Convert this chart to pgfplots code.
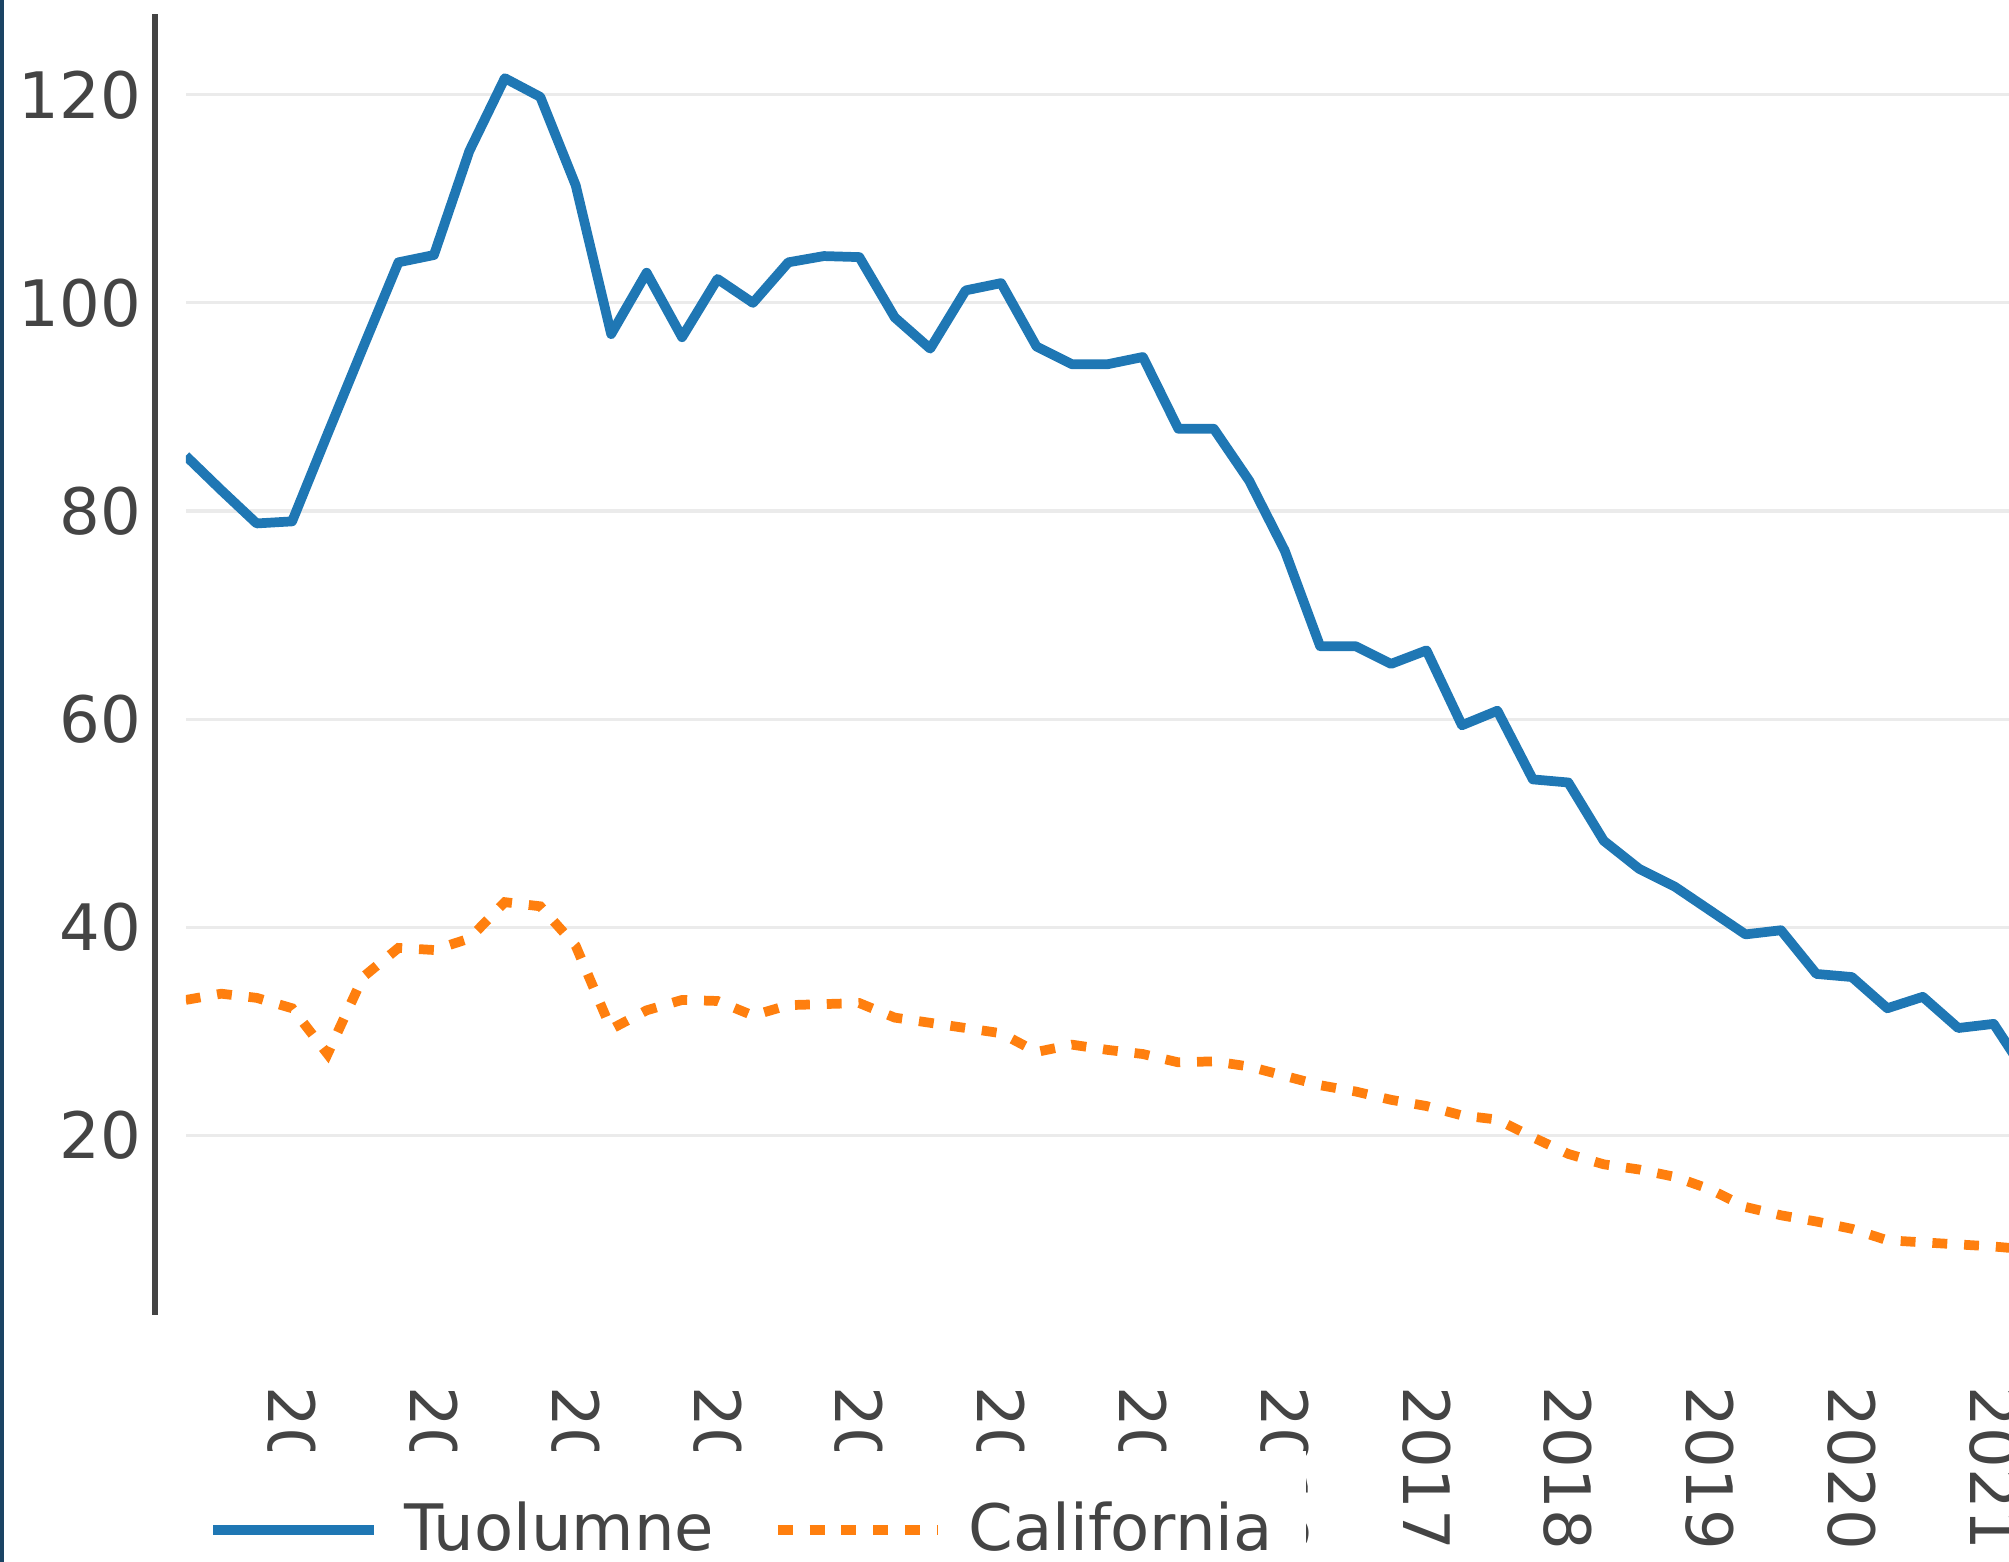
\documentclass[border=0pt]{standalone}
\usepackage{fontspec}
\setmainfont{DejaVu Sans}
\usepackage{pgfplots}
\usepackage{pgfplotstable}
\pgfplotsset{compat=1.18}

\definecolor{tuol}{HTML}{1F77B4}
\definecolor{cali}{HTML}{FF7F0E}
\definecolor{axisgray}{HTML}{444444}
\definecolor{gridgray}{HTML}{EBEBEB}
\definecolor{edgeblue}{RGB}{27,68,100}

% quarterly values, year as decimal
\pgfplotstableread{
year     tuol   cali
2008.25  85.3   33.0
2008.50  82.0   33.6
2008.75  78.8   33.2
2009.00  79.0   32.2
2009.25  87.4   27.8
2009.50  95.7   35.2
2009.75  103.9  38.0
2010.00  104.6  37.8
2010.25  114.6  38.9
2010.50  121.6  42.4
2010.75  119.8  42.0
2011.00  111.3  38.2
2011.25  97.0   30.2
2011.50  102.9  32.0
2011.75  96.7   33.0
2012.00  102.3  32.9
2012.25  100.0  31.5
2012.50  103.9  32.5
2012.75  104.5  32.6
2013.00  104.4  32.7
2013.25  98.6   31.3
2013.50  95.6   30.8
2013.75  101.2  30.3
2014.00  101.9  29.8
2014.25  95.8   28.0
2014.50  94.1   28.7
2014.75  94.1   28.2
2015.00  94.8   27.8
2015.25  87.9   27.0
2015.50  87.9   27.1
2015.75  82.9   26.6
2016.00  76.2   25.7
2016.25  67.0   24.8
2016.50  67.0   24.2
2016.75  65.3   23.4
2017.00  66.6   22.8
2017.25  59.4   21.9
2017.50  60.8   21.5
2017.75  54.2   19.8
2018.00  53.9   18.2
2018.25  48.3   17.2
2018.50  45.6   16.7
2018.75  43.9   16.0
2019.00  41.6   14.8
2019.25  39.3   13.1
2019.50  39.7   12.3
2019.75  35.5   11.7
2020.00  35.2   11.0
2020.25  32.2   9.9
2020.50  33.3   9.7
2020.75  30.3   9.5
2021.00  30.7   9.3
2021.25  25.5   9.0
}\datatable

\begin{document}
\begin{tikzpicture}
\useasboundingbox (-36.25pt,-48.25pt) rectangle (355.75pt,256.5pt);
\clip (-36.25pt,-48.25pt) rectangle (355.75pt,256.5pt);
\begin{axis}[
  at={(0pt,0pt)}, anchor=south west,
  scale only axis,
  width=355.75pt, height=253.75pt,
  xmin=2008.25, xmax=2021.108,
  ymin=2.76, ymax=127.76,
  xtick={2009,2010,...,2021},
  ytick={20,40,...,120},
  axis y line=left, axis x line=bottom,
  axis y line shift=6pt,
  axis line style={-},
  y axis line style={axisgray, line width=1pt},
  x axis line style={draw=none},
  major tick length=0pt,
  ymajorgrids,
  grid style={gridgray, line width=0.6pt},
  tick label style={font=\fontsize{12.5}{15}\selectfont, text=axisgray,
    /pgf/number format/assume math mode=true,
    /pgf/number format/1000 sep={}},
  yticklabel style={xshift=0.8pt},
  xticklabel style={rotate=-90, anchor=west},
  xticklabel shift=10.6pt,
  legend columns=-1,
  legend style={at={(-0.0007,-0.1044)}, anchor=north west,
    fill=white, draw=none, inner xsep=4.5pt, inner ysep=7.9pt,
    font=\fontsize{12.5}{15}\selectfont, text=axisgray,
    /tikz/every odd column/.append style={column sep=3pt},
    /tikz/every even column/.append style={column sep=9.5pt}},
  legend image code/.code={\draw[#1] (0pt,0pt) -- (31.25pt,0pt);},
]
\addplot[tuol, line width=1.9pt, line join=round] table[x=year, y=tuol] {\datatable};
\addlegendentry{Tuolumne}
\addplot[cali, line width=1.9pt, dash pattern=on 2.9pt off 3.3pt] table[x=year, y=cali] {\datatable};
\addlegendentry{California}
\end{axis}
\fill[edgeblue] (-36.25pt,-48.25pt) rectangle (-35.5pt,256.5pt);
\end{tikzpicture}
\end{document}
